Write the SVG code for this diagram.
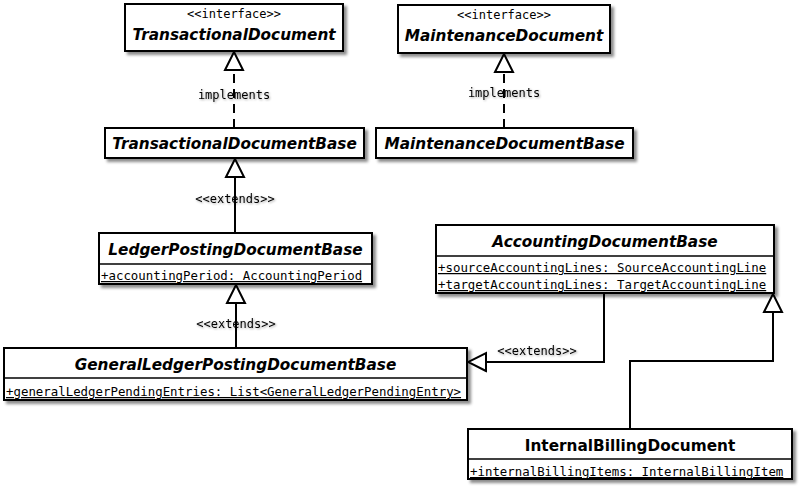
<svg xmlns="http://www.w3.org/2000/svg" width="800" height="489" viewBox="0 0 800 489">
<style>
.box{fill:#fff;stroke:#000;stroke-width:2;filter:url(#sh)}
.div{stroke:#000;stroke-width:1.5}
.name{font-family:"DejaVu Sans",sans-serif;font-weight:bold;font-style:italic;font-size:15.3px;text-anchor:middle}
.nameb{font-family:"DejaVu Sans",sans-serif;font-weight:bold;font-size:15.3px;text-anchor:middle}
.st{font-family:"DejaVu Sans Mono",monospace;font-size:12px;text-anchor:middle}
.attr{font-family:"DejaVu Sans Mono",monospace;font-size:12.4px;text-decoration:underline}
.lbl{font-family:"DejaVu Sans Mono",monospace;font-size:12px;text-anchor:middle;filter:url(#tsh)}
.ln{fill:none;stroke:#000;stroke-width:2;marker-end:url(#gen)}
.dash{stroke-dasharray:9,6}
</style>
<defs>
<filter id="sh" x="-10%" y="-20%" width="130%" height="150%">
<feDropShadow dx="3" dy="3" stdDeviation="1.5" flood-color="#000" flood-opacity="0.45"/>
</filter>
<filter id="tsh" x="-20%" y="-50%" width="140%" height="200%">
<feDropShadow dx="1" dy="1" stdDeviation="1" flood-color="#000" flood-opacity="0.35"/>
</filter>
<marker id="gen" viewBox="0 0 22 22" refX="20" refY="11" markerWidth="22" markerHeight="22" markerUnits="userSpaceOnUse" orient="auto">
<path d="M2,2 L20,11 L2,20 Z" fill="#fff" stroke="#000" stroke-width="2"/>
</marker>
</defs>

<g id="TransactionalDocument">
<rect class="box" x="125" y="4" width="218" height="47"/>
<text class="st" x="234" y="18">&lt;&lt;interface&gt;&gt;</text>
<text class="name" x="234" y="40">TransactionalDocument</text>
</g>
<g id="MaintenanceDocument">
<rect class="box" x="398" y="5" width="212" height="48"/>
<text class="st" x="504" y="19">&lt;&lt;interface&gt;&gt;</text>
<text class="name" x="504" y="41">MaintenanceDocument</text>
</g>
<g id="TransactionalDocumentBase">
<rect class="box" x="105" y="128" width="259" height="30"/>
<text class="name" x="234.5" y="148.5">TransactionalDocumentBase</text>
</g>
<g id="MaintenanceDocumentBase">
<rect class="box" x="376" y="128" width="257" height="30"/>
<text class="name" x="504.5" y="148.5">MaintenanceDocumentBase</text>
</g>
<g id="LedgerPostingDocumentBase">
<rect class="box" x="99" y="233" width="273" height="51"/>
<line class="div" x1="99" y1="264" x2="372" y2="264"/>
<text class="name" x="235.5" y="254.5">LedgerPostingDocumentBase</text>
<text class="attr" x="101" y="280">+accountingPeriod: AccountingPeriod</text>
</g>
<g id="GeneralLedgerPostingDocumentBase">
<rect class="box" x="4" y="348" width="463" height="52"/>
<line class="div" x1="4" y1="378" x2="467" y2="378"/>
<text class="name" x="235.5" y="370">GeneralLedgerPostingDocumentBase</text>
<text class="attr" x="6" y="396">+generalLedgerPendingEntries: List&lt;GeneralLedgerPendingEntry&gt;</text>
</g>
<g id="AccountingDocumentBase">
<rect class="box" x="436" y="225" width="338" height="68"/>
<line class="div" x1="436" y1="256" x2="774" y2="256"/>
<text class="name" x="605" y="247">AccountingDocumentBase</text>
<text class="attr" x="438" y="272">+sourceAccountingLines: SourceAccountingLine</text>
<text class="attr" x="438" y="289">+targetAccountingLines: TargetAccountingLine</text>
</g>
<g id="InternalBillingDocument">
<rect class="box" x="468" y="429" width="324" height="50"/>
<line class="div" x1="468" y1="459" x2="792" y2="459"/>
<text class="nameb" x="630" y="451">InternalBillingDocument</text>
<text class="attr" x="470" y="476">+internalBillingItems: InternalBillingItem</text>
</g>

<g id="connectors">
<text class="lbl" x="234" y="99">implements</text>
<path class="ln dash" d="M234,128 V52"/>
<text class="lbl" x="504" y="97">implements</text>
<path class="ln dash" d="M504,128 V54"/>
<text class="lbl" x="235" y="203">&lt;&lt;extends&gt;&gt;</text>
<path class="ln" d="M235,233 V159"/>
<text class="lbl" x="236" y="328">&lt;&lt;extends&gt;&gt;</text>
<path class="ln" d="M236,348 V285"/>
<text class="lbl" x="537" y="355">&lt;&lt;extends&gt;&gt;</text>
<path class="ln" d="M604,293 V362 H468"/>
<path class="ln" d="M630,429 V361 H773 V294"/>
</g>
</svg>
